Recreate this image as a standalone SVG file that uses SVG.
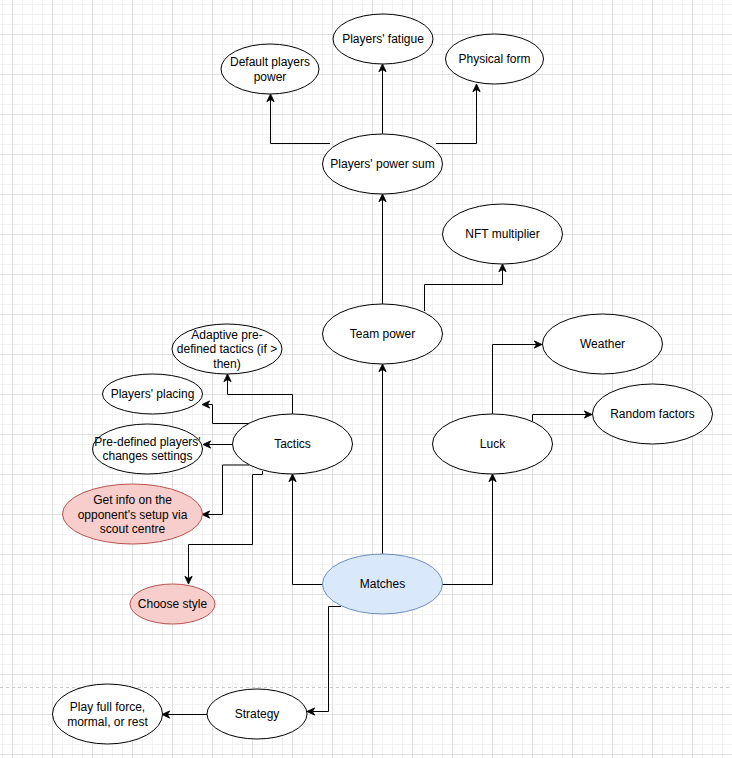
<svg xmlns="http://www.w3.org/2000/svg" width="732" height="758" viewBox="0 0 732 758">
<defs>
<pattern id="minor" x="12" y="34" width="10" height="10" patternUnits="userSpaceOnUse">
<path d="M0.5,0 V10 M0,0.5 H10" stroke="#f2f2f2" stroke-width="1" fill="none"/>
</pattern>
<pattern id="major" x="12" y="34" width="40" height="40" patternUnits="userSpaceOnUse">
<path d="M0.5,0 V40 M0,0.5 H40" stroke="#e0e0e0" stroke-width="1" fill="none"/>
</pattern>
<marker id="arr" viewBox="0 0 10 10" refX="9.5" refY="5" markerWidth="9" markerHeight="9" markerUnits="userSpaceOnUse" orient="auto">
<path d="M1,1 L9.5,5 L1,9 L3.5,5 Z" fill="#000" stroke="#000" stroke-width="1"/>
</marker>
<style>
.n{fill:#fff;stroke:#000;stroke-width:1}
.red{fill:#f8cecc;stroke:#b85450;stroke-width:1}
.blue{fill:#dae8fc;stroke:#6c8ebf;stroke-width:1}
.c{fill:none;stroke:#000;stroke-width:1;marker-end:url(#arr)}
text{font-family:"Liberation Sans",Arial,sans-serif;font-size:12px;fill:#000;text-anchor:middle;dominant-baseline:central}
</style>
</defs>
<rect width="732" height="758" fill="#fff"/>
<rect width="732" height="758" fill="url(#minor)"/>
<rect width="732" height="758" fill="url(#major)"/>
<line x1="0" y1="687.5" x2="732" y2="687.5" stroke="#c8c8c8" stroke-width="1" stroke-dasharray="3,3"/>

<g id="connectors">
<path class="c" d="M382.5,134 V64"/>
<path class="c" d="M330,143.5 H270.5 V94"/>
<path class="c" d="M436,143.5 H476.5 V84"/>
<path class="c" d="M382.5,304 V194"/>
<path class="c" d="M424.5,311 V284.5 H502.5 V264"/>
<path class="c" d="M382.5,554 V364"/>
<path class="c" d="M442,584.5 H492.5 V474"/>
<path class="c" d="M492.5,414 V344.5 H542"/>
<path class="c" d="M532.5,421 V414.5 H592"/>
<path class="c" d="M322,584.5 H292.5 V474"/>
<path class="c" d="M292.5,414 V394.5 H227.5 V374"/>
<path class="c" d="M249,423.5 H212.5 V404.5 H202"/>
<path class="c" d="M232,444.5 H203"/>
<path class="c" d="M249,465 H222.5 V514.5 H202"/>
<path class="c" d="M262.5,471 V474.5 H252.5 V544.5 H188.5 V584"/>
<path class="c" d="M341,606.5 H328.5 V711.5 H307"/>
<path class="c" d="M207,714.5 H162"/>
</g>

<g id="default-players-power"><ellipse class="n" cx="270" cy="69" rx="49" ry="25"/><text x="270" y="62">Default players</text><text x="270" y="77">power</text></g>
<g id="players-fatigue"><ellipse class="n" cx="383" cy="39" rx="50" ry="25"/><text x="383" y="39">Players' fatigue</text></g>
<g id="physical-form"><ellipse class="n" cx="494.5" cy="59" rx="49" ry="25"/><text x="494.5" y="59">Physical form</text></g>
<g id="players-power-sum"><ellipse class="n" cx="382.5" cy="164" rx="60" ry="30"/><text x="382.5" y="164">Players' power sum</text></g>
<g id="nft-multiplier"><ellipse class="n" cx="502.5" cy="234" rx="60" ry="30"/><text x="502.5" y="234">NFT multiplier</text></g>
<g id="team-power"><ellipse class="n" cx="382.5" cy="334" rx="60" ry="30"/><text x="382.5" y="334">Team power</text></g>
<g id="weather"><ellipse class="n" cx="602.5" cy="344" rx="60" ry="30"/><text x="602.5" y="344">Weather</text></g>
<g id="random-factors"><ellipse class="n" cx="652.5" cy="414" rx="60" ry="30"/><text x="652.5" y="414">Random factors</text></g>
<g id="luck"><ellipse class="n" cx="492.5" cy="444" rx="60" ry="30"/><text x="492.5" y="444">Luck</text></g>
<g id="adaptive-tactics"><ellipse class="n" cx="227" cy="349" rx="55" ry="25"/><text x="227" y="334.5">Adaptive pre-</text><text x="227" y="349">defined tactics (if &gt;</text><text x="227" y="363.5">then)</text></g>
<g id="players-placing"><ellipse class="n" cx="152.5" cy="394" rx="50" ry="20"/><text x="152.5" y="394">Players' placing</text></g>
<g id="predefined-changes"><ellipse class="n" cx="147.5" cy="449" rx="55" ry="25"/><text x="147.5" y="441.5">Pre-defined players'</text><text x="147.5" y="456">changes settings</text></g>
<g id="tactics"><ellipse class="n" cx="292.5" cy="444" rx="60" ry="30"/><text x="292.5" y="444">Tactics</text></g>
<g id="get-info"><ellipse class="red" cx="132.5" cy="514" rx="70" ry="30"/><text x="132.5" y="500">Get info on the</text><text x="132.5" y="514.5">opponent's setup via</text><text x="132.5" y="529">scout centre</text></g>
<g id="choose-style"><ellipse class="red" cx="172.5" cy="604" rx="42.5" ry="20"/><text x="172.5" y="604">Choose style</text></g>
<g id="matches"><ellipse class="blue" cx="382.5" cy="584" rx="60" ry="30"/><text x="382.5" y="584">Matches</text></g>
<g id="strategy"><ellipse class="n" cx="257" cy="714" rx="50" ry="25"/><text x="257" y="714">Strategy</text></g>
<g id="play-full-force"><ellipse class="n" cx="107.5" cy="714" rx="55" ry="30"/><text x="107.5" y="707">Play full force,</text><text x="107.5" y="721.5">mormal, or rest</text></g>
</svg>
